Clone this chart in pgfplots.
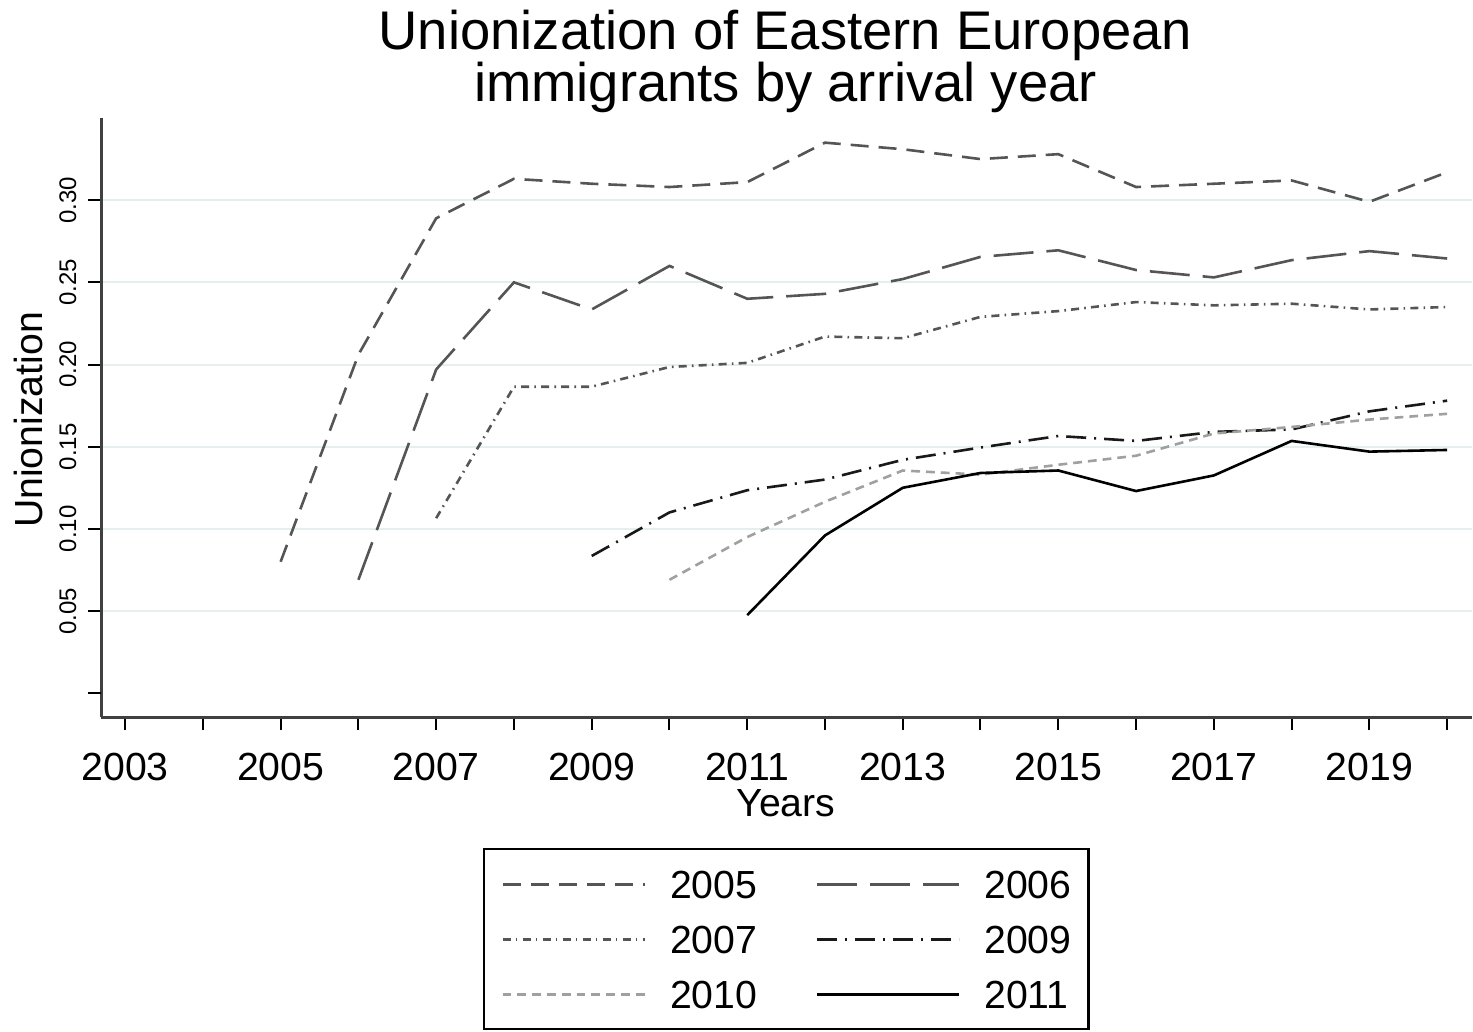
\documentclass[border=0pt]{standalone}
\usepackage{fontspec}
\setmainfont{Liberation Sans}
\usepackage{pgfplots}
\pgfplotsset{compat=1.18}

\definecolor{gridc}{HTML}{E6EFEF}
\definecolor{dgray}{HTML}{555555}
\definecolor{lgray}{HTML}{A0A0A0}

\begin{document}
\begin{tikzpicture}
\useasboundingbox (-25.25pt,-78.5pt) rectangle (343pt,179.25pt);
\begin{axis}[
  at={(0pt,0pt)}, anchor=south west,
  scale only axis, width=342.75pt, height=149.75pt,
  xmin=2002.69, xmax=2020.32, ymin=-0.0145, ymax=0.35,
  axis x line*=bottom, axis y line*=left,
  axis line style={black!75, line width=0.75pt},
  tick align=outside, major tick length=3.25pt,
  tick style={black, line width=0.5pt},
  xtick={2003,2004,...,2020},
  xticklabels={2003,,2005,,2007,,2009,,2011,,2013,,2015,,2017,,2019,},
  xticklabel style={font=\fontsize{9.8}{11}\selectfont, anchor=base},
  xticklabel shift=12.5pt,
  ytick={0.05,0.1,0.15,0.2,0.25,0.3},
  yticklabels={0.05,0.10,0.15,0.20,0.25,0.30},
  extra y ticks={0}, extra y tick labels={},
  extra y tick style={grid=none},
  yticklabel style={font=\fontsize{6}{7}\selectfont, rotate=90, anchor=base},
  yticklabel shift=3pt,
  ymajorgrids, major grid style={gridc, line width=0.5pt},
  every axis plot/.append style={line width=0.65pt},
  legend columns=2,
  legend image code/.code={\draw[#1, line width=0.75pt] (0pt,0pt) -- (35.5pt,0pt);},
  legend style={at={(axis description cs:0.2786,-0.2187)}, anchor=north west,
    draw=black, line width=0.6pt, fill=white,
    font=\fontsize{9.8}{11}\selectfont,
    inner xsep=4.25pt, inner ysep=5.2pt,
    nodes={inner sep=0pt, text height=7.1pt, text depth=0pt},
    column sep=6pt, row sep=6.65pt,
    /tikz/every even column/.append style={column sep=14.5pt}},
  legend cell align=left,
]
\addplot[dgray, dash pattern=on 4.5pt off 2.5pt] coordinates {
(2005,0.080)(2006,0.206)(2007,0.289)(2008,0.313)(2009,0.310)(2010,0.308)
(2011,0.311)(2012,0.335)(2013,0.331)(2014,0.325)(2015,0.328)(2016,0.308)
(2017,0.310)(2018,0.312)(2019,0.299)(2020,0.317)};
\addlegendentry{2005}
\addplot[dgray, dash pattern=on 10pt off 3.25pt] coordinates {
(2006,0.069)(2007,0.197)(2008,0.250)(2009,0.2335)(2010,0.260)(2011,0.240)
(2012,0.243)(2013,0.252)(2014,0.2655)(2015,0.2695)(2016,0.2575)(2017,0.253)
(2018,0.2635)(2019,0.269)(2020,0.2645)};
\addlegendentry{2006}
\addplot[dgray, dash pattern=on 2pt off 1.3pt on 0.4pt off 1.3pt] coordinates {
(2007,0.1065)(2008,0.1865)(2009,0.1865)(2010,0.1985)(2011,0.201)(2012,0.217)
(2013,0.216)(2014,0.229)(2015,0.2325)(2016,0.238)(2017,0.236)(2018,0.237)
(2019,0.2335)(2020,0.235)};
\addlegendentry{2007}
\addplot[black!90, dash pattern=on 5pt off 2pt on 0.5pt off 2pt] coordinates {
(2009,0.0835)(2010,0.110)(2011,0.1235)(2012,0.130)(2013,0.142)(2014,0.1495)
(2015,0.1565)(2016,0.1535)(2017,0.159)(2018,0.1605)(2019,0.1715)(2020,0.178)};
\addlegendentry{2009}
\addplot[lgray, dash pattern=on 2.2pt off 1.5pt] coordinates {
(2010,0.069)(2011,0.095)(2012,0.1165)(2013,0.1355)(2014,0.133)(2015,0.139)
(2016,0.1445)(2017,0.158)(2018,0.162)(2019,0.1665)(2020,0.170)};
\addlegendentry{2010}
\addplot[black] coordinates {
(2011,0.0475)(2012,0.096)(2013,0.125)(2014,0.134)(2015,0.1355)(2016,0.123)
(2017,0.1325)(2018,0.1535)(2019,0.147)(2020,0.148)};
\addlegendentry{2011}
\end{axis}
\node[anchor=base, font=\fontsize{13.6}{16}\selectfont] at (171.1pt,167pt) {Unionization of Eastern European};
\node[anchor=base, font=\fontsize{13.6}{16}\selectfont] at (171.1pt,154pt) {immigrants by arrival year};
\node[anchor=base, font=\fontsize{9.8}{11}\selectfont] at (171.25pt,-24.75pt) {Years};
\node[anchor=base, rotate=90, font=\fontsize{9.8}{11}\selectfont] at (-14.5pt,74.25pt) {Unionization};
\end{tikzpicture}
\end{document}
